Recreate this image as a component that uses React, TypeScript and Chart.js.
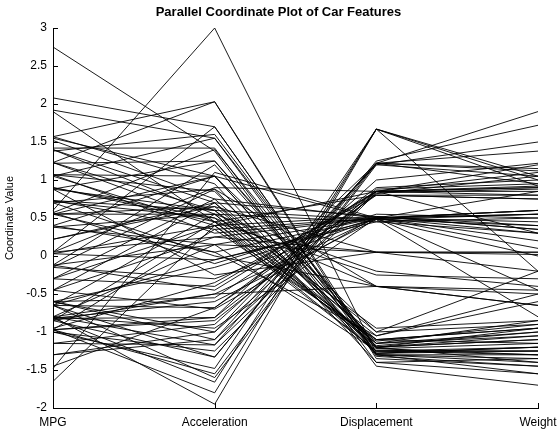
import React, { useEffect, useRef } from "react";
import { Chart, registerables } from "chart.js";

Chart.register(...registerables);

const titleText = "Parallel Coordinate Plot of Car Features";
const yAxisTitle = "Coordinate Value";
const axisLabels = ["MPG", "Acceleration", "Displacement", "Weight"];
const yTickValues = [-2, -1.5, -1, -0.5, 0, 0.5, 1, 1.5, 2, 2.5, 3];

// standardized values per car (one entry per line)
const mpg = [
  2.75, 2.08, 1.92, 1.9, 1.57, 1.55, 1.52, 1.42, 1.4, 1.38, 1.23, 1.22, 1.07, 1.07, 1.05, 1.05, 0.9, 0.88, 0.88, 0.73,
  0.7, 0.6, 0.57, 0.55, 0.55, 0.4, 0.38, 0.22, 0.05, 0.03, 1.4, 1.57, 0.72, 0.9, -0.12, 1.23, -0.15, 0.55,
  -0.8, -0.97, -0.82, -1.0, -0.85, -0.65, -1.15, -0.8, -0.6, -1.3, -0.97, -0.82, -1.45, -0.65, -0.97, -0.85, -1.0,
  -0.6, -0.8, -1.15, -0.45, -0.95, -1.3, -0.82, -0.3, -0.65, -0.97, -1.65, -1.48, -0.6,
  0.05, 0.03, -0.12, -0.15, -0.3, -0.45, -0.6, -0.65, 0.4, 0.22, 0.57, 0.38, -0.3, -0.8, -0.85, 0.73, 0.7, 0.05,
  -0.12, -0.45, 1.07, 0.88, -0.97, -0.65, 0.55, 1.23, -0.8,
];
const acceleration = [
  1.38, 1.7, 1.55, 0.45, 2.03, 1.05, 0.75, 1.42, 0.7, 1.6, 2.03, 1.25, 0.85, 1.05, 0.4, 1.55, 0.5, 1.25, 0.6, 0.35,
  0.88, 3.0, 1.4, 0.65, 0.55, 1.05, 0.15, 0.7, 1.7, 0.4, 0.55, 0.95, 0.5, 0.45, 1.2, 0.6, 0.88, 0.05,
  -1.95, -1.8, -1.66, -1.48, -1.33, -1.33, -1.17, -1.17, -1.0, -1.0, -0.81, -0.81, -0.68, -0.68, -1.55, -0.5, -1.25,
  -0.55, -0.95, -0.9, -0.7, -0.35, -1.1, -0.6, -0.4, -1.6, -0.85, 0.4, 1.1, -1.1,
  0.25, -0.05, 0.15, -0.3, 0.4, 0.25, -0.15, 0.55, 0.05, 0.65, -0.1, 0.55, 0.75, 0.15, 0.45, 0.6, 0.0, 0.9,
  -0.45, 0.7, 0.3, -0.25, 0.35, -0.05, 1.05, 0.45, -0.5,
];
const displacement = [
  -1.45, -1.3, -1.2, -1.25, -1.35, -1.25, -1.1, -1.4, -1.28, -1.2, -1.3, -1.15, -1.22, -1.0, -1.25, -1.32, -1.18, -1.22,
  -0.95, -1.1, -1.4, -1.28, -1.2, -1.05, -1.15, -1.28, -1.25, -1.0, -1.3, -1.12, -1.2, -1.3, -0.4, -1.1, -1.2, -1.15,
  -0.4, -1.05,
  1.67, 1.67, 1.67, 1.67, 1.22, 1.25, 1.22, 0.85, 1.2, 0.88, 0.85, 1.22, 0.8, 0.9, 1.22, 0.5, 0.83,
  0.85, 0.5, 1.0, 0.52, 0.8, 1.22, 0.48, 0.85, 1.2, 0.82, 0.85, 0.5, 0.85,
  0.5, 0.48, 0.05, 0.5, 0.52, 0.05, 0.5, 0.45, 0.5, 0.05, 0.55, -0.2, 0.5, 0.5, 0.8, 0.48, -0.4, 0.85,
  0.85, 0.52, 0.5, 0.05, 0.5, 0.45, 0.48, -0.25, -0.4,
];
const weight = [
  -1.7, -1.55, -1.4, -1.3, -1.45, -1.2, -0.95, -1.35, -1.25, -1.1, -1.3, -1.05, -1.15, -0.9, -1.25, -1.45, -1.0, -1.3,
  -0.85, -0.95, -1.55, -1.2, -1.1, -0.6, -1.0, -1.2, -1.25, -0.2, -1.35, -0.9, -1.05, -1.4, -0.45, -1.15, -0.95, -0.85,
  -0.65, -0.5,
  1.0, 0.92, 1.05, -0.2, 1.9, 1.72, 1.38, 0.9, 1.05, 0.95, 0.85, 1.15, 0.8, 1.0, 1.12, 0.6, 0.88,
  0.92, 0.55, 1.22, 0.35, 0.75, 0.95, 0.4, 0.9, 1.5, 1.05, 1.1, 0.85, 1.2,
  0.3, 0.55, 0.05, 0.6, 0.35, 0.02, 0.45, 0.3, 0.2, -0.2, 0.5, -0.4, 0.1, 0.55, 0.75, 0.0, -0.5, 0.3,
  0.8, 0.4, -0.45, 0.05, 0.6, 0.5, -0.8, -0.3, -0.65,
];

const FONT = "'Liberation Sans', Arial, Helvetica, sans-serif";

const inwardTicks = {
  id: "inwardTicks",
  afterDraw(chart: any) {
    const { ctx, chartArea, scales } = chart;
    const xs = scales.x;
    const ys = scales.y;
    ctx.save();
    ctx.strokeStyle = "#000";
    ctx.lineWidth = 1;
    ctx.beginPath();
    for (const v of yTickValues) {
      const py = Math.round(ys.getPixelForValue(v)) + 0.5;
      ctx.moveTo(chartArea.left, py);
      ctx.lineTo(chartArea.left + 5, py);
    }
    for (let i = 0; i < axisLabels.length; i++) {
      const px = Math.round(xs.getPixelForValue(i)) + 0.5;
      ctx.moveTo(px, chartArea.bottom);
      ctx.lineTo(px, chartArea.bottom - 5);
    }
    ctx.stroke();
    ctx.restore();
  },
};

export default function App() {
  const ref = useRef<HTMLCanvasElement | null>(null);
  useEffect(() => {
    if (!ref.current) return;
    const datasets = mpg.map((m, i) => ({
      data: [m, acceleration[i], displacement[i], weight[i]],
      borderColor: "#000",
      borderWidth: 0.9,
      pointRadius: 0,
      fill: false,
      tension: 0,
    }));
    const chart = new Chart(ref.current, {
      type: "line",
      data: { labels: axisLabels, datasets },
      plugins: [inwardTicks],
      options: {
        responsive: false,
        animation: false,
        events: [],
        layout: { padding: 0 },
        plugins: {
          legend: { display: false },
          tooltip: { enabled: false },
          title: {
            display: true,
            text: titleText,
            color: "#000",
            font: { family: FONT, size: 13, weight: "bold" },
            padding: { top: 5, bottom: 7.4 },
          },
        },
        scales: {
          x: {
            type: "category",
            offset: false,
            grid: { display: false, drawTicks: false },
            border: { display: true, color: "#000", width: 1 },
            ticks: { color: "#000", font: { family: FONT, size: 12 }, padding: 7, maxRotation: 0, autoSkip: false },
            afterFit: (s: any) => {
              s.height = 22;
              s.paddingLeft = 0;
              s.paddingRight = 19;
            },
          },
          y: {
            type: "linear",
            min: -2,
            max: 3,
            grid: { display: false, drawTicks: false },
            border: { display: true, color: "#000", width: 1 },
            afterBuildTicks: (s: any) => {
              s.ticks = yTickValues.map((v) => ({ value: v }));
            },
            ticks: {
              color: "#000",
              font: { family: FONT, size: 12 },
              padding: 6,
              callback: (v: any) => String(v),
            },
            title: {
              display: true,
              text: yAxisTitle,
              color: "#000",
              font: { family: FONT, size: 11 },
              padding: { top: 3, bottom: 0 },
            },
            afterFit: (s: any) => {
              s.width = 53;
            },
          },
        },
      } as any,
    });
    return () => chart.destroy();
  }, []);
  return (
    <div style={{ position: "absolute", left: 0, top: 0, width: 557, height: 430, background: "#fff" }}>
      <canvas ref={ref} width={557} height={430} style={{ width: 557, height: 430 }} />
    </div>
  );
}
